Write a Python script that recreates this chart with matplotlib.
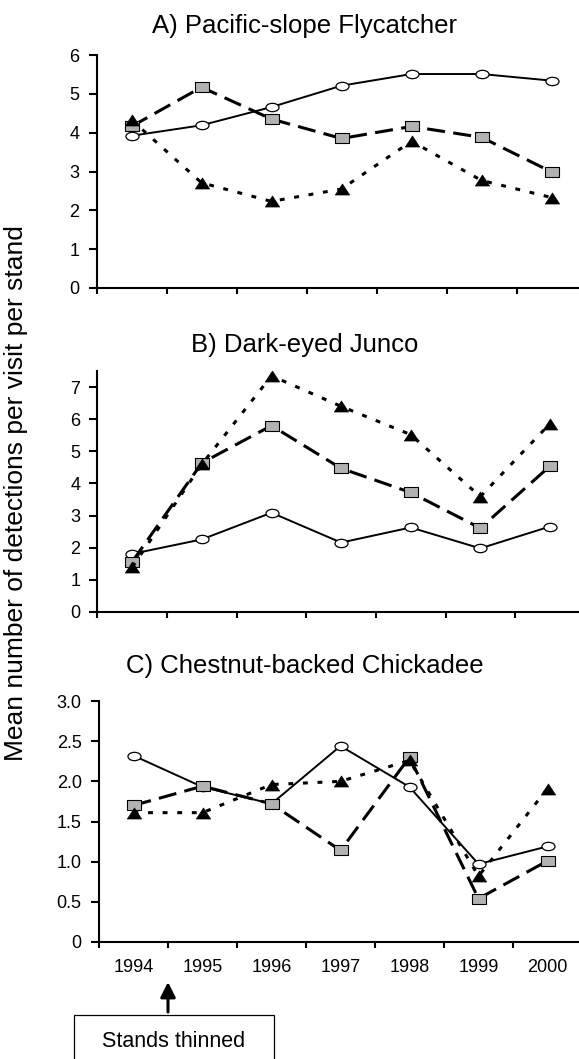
import matplotlib
matplotlib.use('Agg')
import matplotlib.pyplot as plt
import matplotlib.transforms as mtrans
from matplotlib.path import Path
from matplotlib.patches import Rectangle
import numpy as np

plt.rcParams['font.family'] = ['Liberation Sans', 'DejaVu Sans']
plt.rcParams['lines.scale_dashes'] = False

years = ['1994', '1995', '1996', '1997', '1998', '1999', '2000']

titles = ['A) Pacific-slope Flycatcher', 'B) Dark-eyed Junco', 'C) Chestnut-backed Chickadee']

a_open = [3.92, 4.19, 4.66, 5.21, 5.51, 5.51, 5.34]
a_square = [4.16, 5.17, 4.35, 3.85, 4.16, 3.88, 2.99]
a_tri = [4.33, 2.71, 2.23, 2.55, 3.78, 2.77, 2.33]

b_open = [1.81, 2.26, 3.09, 2.16, 2.63, 1.98, 2.66]
b_square = [1.57, 4.64, 5.80, 4.47, 3.72, 2.61, 4.54]
b_tri = [1.40, 4.60, 7.35, 6.40, 5.52, 3.59, 5.86]

c_open = [2.32, 1.93, 1.72, 2.44, 1.93, 0.97, 1.19]
c_square = [1.70, 1.94, 1.72, 1.14, 2.30, 0.54, 1.01]
c_tri = [1.61, 1.61, 1.96, 2.00, 2.26, 0.82, 1.91]

panels = [(a_open, a_square, a_tri), (b_open, b_square, b_tri), (c_open, c_square, c_tri)]
yticks = [np.arange(0, 7, 1), np.arange(0, 8, 1), np.arange(0, 3.01, 0.5)]
ylims = [6, 7.5, 3]

# squashed markers (the printed figure was stretched sideways)
ellipse = Path.unit_circle().transformed(mtrans.Affine2D().scale(1, 0.64))
square = Path([(-1, -0.73), (1, -0.73), (1, 0.73), (-1, 0.73), (-1, -0.73)],
              [Path.MOVETO, Path.LINETO, Path.LINETO, Path.LINETO, Path.CLOSEPOLY])
tri = Path([(-1, -0.77), (1, -0.77), (0, 0.77), (-1, -0.77)],
           [Path.MOVETO, Path.LINETO, Path.LINETO, Path.CLOSEPOLY])

W, H = 579, 1059
fig = plt.figure(figsize=(W / 100, H / 100), dpi=100)

# axes boxes in pixels: (top, bottom, left, px per year)
boxes = [(55, 288, 96.5, 70.0), (371, 612, 97.5, 69.6), (701, 942, 99.0, 69.0)]
title_base = [33, 352, 673]
right = 579
x = np.arange(len(years))

axes = []
for i, (op, sq, tr) in enumerate(panels):
    top, bot, left, step = boxes[i]
    ax = fig.add_axes([left / W, 1 - bot / H, (right - left) / W, (bot - top) / H])
    axes.append(ax)
    ax.plot(x, op, color='black', lw=1.4, marker=ellipse, ms=9.4,
            mfc='white', mec='black', mew=0.9, zorder=3)
    ax.plot(x, sq, color='black', lw=2.2, dashes=(13, 6), marker=square, ms=9.5,
            mfc='#b2b2b2', mec='black', mew=0.8, zorder=4)
    ax.plot(x, tr, color='black', lw=2.2, dashes=(3.5, 7), marker=tri, ms=10.3,
            mfc='black', mec='black', mew=0.5, zorder=5)

    ax.set_xlim(-0.5, -0.5 + (right - left) / step)
    ax.set_ylim(0, ylims[i])
    for s in ['top', 'right']:
        ax.spines[s].set_visible(False)
    for s in ['left', 'bottom']:
        ax.spines[s].set_linewidth(1.5)
    ax.spines['left'].set_bounds(0, ylims[i])

    ax.set_xticks(np.arange(-0.5, 6.5, 1))
    ax.set_xticklabels([])
    ax.tick_params(axis='x', which='major', length=4, width=1.5, direction='out')
    ax.set_yticks(yticks[i])
    if i == 2:
        ax.set_yticklabels(['0', '0.5', '1.0', '1.5', '2.0', '2.5', '3.0'])
        ax.set_xticks(x, minor=True)
        ax.set_xticklabels(years, minor=True)
        ax.tick_params(axis='x', which='minor', length=0, pad=12, labelsize=13)
    ax.tick_params(axis='y', length=5.5, width=1.5, direction='out', pad=7, labelsize=13)

    fig.text(305 / W, 1 - title_base[i] / H, titles[i], ha='center', va='baseline',
             fontsize=18.5)

fig.text(16 / W, 1 - 493 / H, 'Mean number of detections per visit per stand',
         rotation=90, ha='center', va='center', fontsize=19)

# arrow marking the thinning, between 1994 and 1995
axc = axes[2]
bot = boxes[2][1]
axc.annotate('', xy=(0.5, (bot - 982) / 241), xytext=(0.5, (bot - 1012) / 241),
             xycoords=axc.get_xaxis_transform(), textcoords=axc.get_xaxis_transform(),
             arrowprops=dict(arrowstyle='-|>,head_length=0.9,head_width=0.45',
                             color='black', lw=2.2, shrinkA=0, shrinkB=0),
             annotation_clip=False)

fig.patches.append(Rectangle((74 / W, -0.02), 200 / W, 0.02 + 1 - 1015 / H,
                             transform=fig.transFigure, fill=False,
                             edgecolor='black', lw=0.9))
fig.text(174 / W, 1 - 1047 / H, 'Stands thinned', ha='center', va='baseline', fontsize=15.5)

fig.savefig('out.png', dpi=100)
